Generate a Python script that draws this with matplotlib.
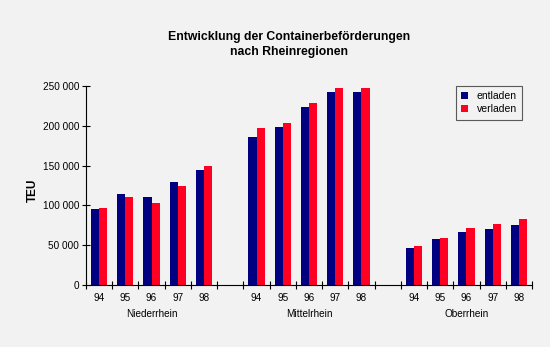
import matplotlib
matplotlib.use("Agg")
import matplotlib.pyplot as plt
import numpy as np

plt.rcParams['font.family'] = ['Liberation Sans', 'DejaVu Sans']

regions = ["Niederrhein", "Mittelrhein", "Oberrhein"]
years = ["94", "95", "96", "97", "98"]
entladen = [
    [95000, 114500, 110000, 129000, 144500],
    [186000, 198000, 223500, 243000, 242000],
    [46500, 57500, 67000, 70500, 76000],
]
verladen = [
    [96500, 110000, 103000, 125000, 149500],
    [197000, 204000, 229000, 247500, 247500],
    [48500, 59000, 72000, 76500, 83000],
]
yticks = [0, 50000, 100000, 150000, 200000, 250000]
ytick_labels = ["0", "50 000", "100 000", "150 000", "200 000", "250 000"]

bg = "#f2f2f2"
c_ent = "#000080"
c_ver = "#ff0022"

fig = plt.figure(figsize=(5.5, 3.47), dpi=100, facecolor=bg)
ax = fig.add_axes([86/550, 1-285/347, 446/550, 199/347])
ax.set_facecolor(bg)

bw = 0.31
slot_pos = []
for g in range(3):
    base = g * 6
    for i in range(len(years)):
        x = base + i
        slot_pos.append(x)
        ax.bar(x - bw/2, entladen[g][i], width=bw, color=c_ent, label="entladen" if (g == 0 and i == 0) else None)
        ax.bar(x + bw/2, verladen[g][i], width=bw, color=c_ver, label="verladen" if (g == 0 and i == 0) else None)

ax.set_xlim(-0.5, 16.5)
ax.set_ylim(0, 250000)
ax.set_yticks(yticks)
ax.set_yticklabels(ytick_labels, fontsize=7.2)
ax.set_xticks(np.arange(-0.5, 17.0, 1.0))
ax.set_xticklabels([])
ax.set_xticks(slot_pos, minor=True)
ax.set_xticklabels(years * 3, minor=True, fontsize=7.2)
ax.tick_params(axis='x', which='major', direction='inout', length=6, width=0.8)
ax.tick_params(axis='x', which='minor', length=0, pad=6)
ax.tick_params(axis='y', direction='inout', length=6, width=0.8, pad=2)

for s in ['top', 'right']:
    ax.spines[s].set_visible(False)
ax.spines['left'].set_linewidth(0.8)
ax.spines['bottom'].set_linewidth(0.8)

for g, name in enumerate(regions):
    ax.text(g * 6 + 2, -0.148, name, transform=ax.get_xaxis_transform(),
            ha='center', va='center', fontsize=7.2)

ax.set_ylabel("TEU", fontsize=8.5, fontweight='bold')
ax.yaxis.set_label_coords(-0.106, 0.477)

fig.text(289/550, 1-37/347, "Entwicklung der Containerbeförderungen", ha='center', va='center',
         fontsize=8.8, fontweight='bold')
fig.text(289/550, 1-52/347, "nach Rheinregionen", ha='center', va='center',
         fontsize=8.8, fontweight='bold')

leg = ax.legend(loc='upper right', bbox_to_anchor=(522/550, 1-86/347), bbox_transform=fig.transFigure,
                fontsize=7.5, frameon=True, fancybox=False, handlelength=0.7, handleheight=0.7,
                handletextpad=0.8, borderpad=0.5, labelspacing=0.3, borderaxespad=0)
leg.get_frame().set_edgecolor('#333333')
leg.get_frame().set_facecolor(bg)
leg.get_frame().set_linewidth(0.8)

fig.savefig("out.png", dpi=100, facecolor=bg)
